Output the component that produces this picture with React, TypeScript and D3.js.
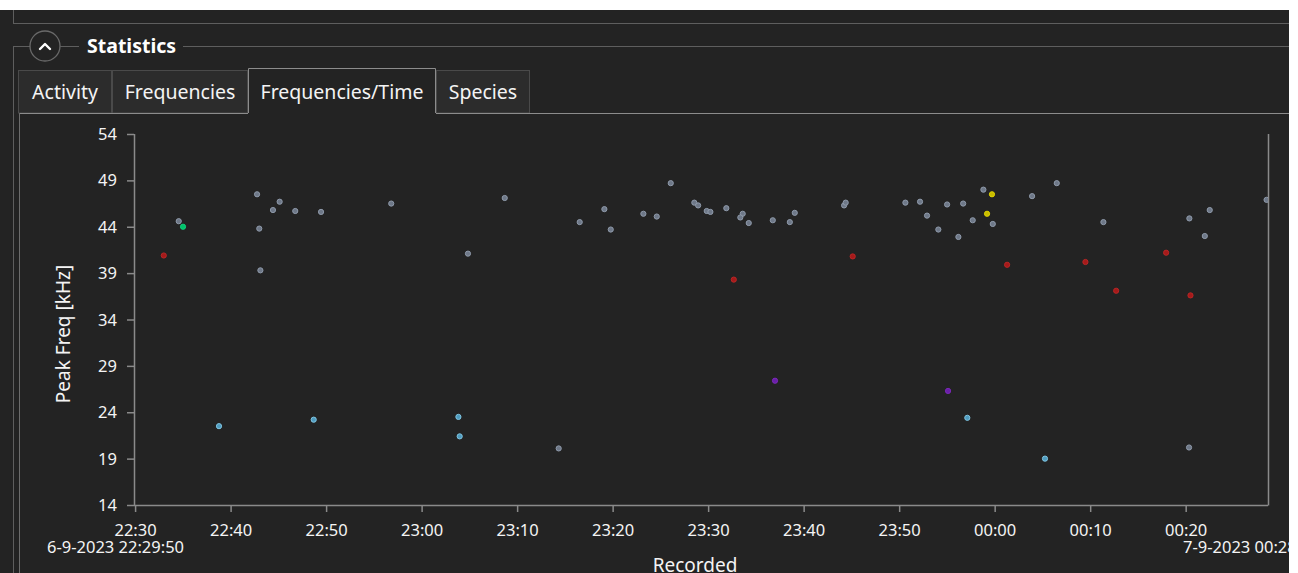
import React from "react";
import * as d3 from "d3";

// ---- data (time of recording, peak frequency kHz) ----
const grayTimes = ["22:34:31","22:42:43","22:42:57","22:43:04","22:44:23","22:45:05","22:46:43","22:49:25","22:56:46","23:04:48","23:08:39","23:14:18","23:16:30","23:19:05","23:19:45","23:23:10","23:24:34","23:26:02","23:28:30","23:28:54","23:29:48","23:30:11","23:31:51","23:33:34","23:33:19","23:34:12","23:36:43","23:38:30","23:39:01","23:44:11","23:44:21","23:50:36","23:52:08","23:52:52","23:54:03","23:54:58","23:56:09","23:56:39","23:57:39","23:58:46","23:59:45","00:03:52","00:06:27","00:11:20","00:20:18","00:20:20","00:21:57","00:22:28","00:28:25"];
const grayValues = [44.6,47.5,43.8,39.3,45.8,46.7,45.7,45.6,46.5,41.1,47.1,20.1,44.5,45.9,43.7,45.4,45.1,48.7,46.6,46.3,45.7,45.6,46.0,45.4,45.0,44.4,44.7,44.5,45.5,46.3,46.6,46.6,46.7,45.2,43.7,46.4,42.9,46.5,44.7,48.0,44.3,47.3,48.7,44.5,20.2,44.9,43.0,45.8,46.9];

const blueTimes = ["22:38:44","22:48:39","23:03:48","23:03:56","23:57:05","00:05:13"];
const blueValues = [22.5,23.2,23.5,21.4,23.4,19.0];

const redTimes = ["22:32:57","23:32:38","23:45:05","00:01:15","00:09:27","00:12:40","00:17:54","00:20:27"];
const redValues = [40.9,38.3,40.8,39.9,40.2,37.1,41.2,36.6];

const greenTimes = ["22:34:58"];
const greenValues = [44.0];

const yellowTimes = ["23:59:40","23:59:09"];
const yellowValues = [47.5,45.4];

const purpleTimes = ["23:36:57","23:55:04"];
const purpleValues = [27.4,26.3];

const yTickValues = [14, 19, 24, 29, 34, 39, 44, 49, 54];
const tabs = ["Activity", "Frequencies", "Frequencies/Time", "Species"];
const startLabel = "6-9-2023 22:29:50";
const endLabel = "7-9-2023 00:28:34";

function parseT(s: string): Date {
  const [h, m, sec] = s.split(":").map(Number);
  const day = h < 12 ? 7 : 6;
  return new Date(2023, 8, day, h, m, sec);
}

const series = [
  { times: grayTimes, values: grayValues, fill: "#6e7888", stroke: "#8f9aaa" },
  { times: blueTimes, values: blueValues, fill: "#4f9cc0", stroke: "#80c4e0" },
  { times: redTimes, values: redValues, fill: "#a51a1a", stroke: "#b82626" },
  { times: greenTimes, values: greenValues, fill: "#00c46c", stroke: "#10d07a" },
  { times: yellowTimes, values: yellowValues, fill: "#c9bc00", stroke: "#e0d400" },
  { times: purpleTimes, values: purpleValues, fill: "#6a1fa8", stroke: "#7a28b8" },
];

const FONT = "'Noto Sans', 'Open Sans', sans-serif";

export default function App() {
  const W = 1298, H = 573;
  const left = 134, right = 1268, top = 134, bottom = 505;
  const x = d3.scaleTime()
    .domain([parseT("22:29:50"), parseT("00:28:34")])
    .range([left, right]);
  const y = d3.scaleLinear().domain([14, 54]).range([bottom, top]);
  const xTicks = x.ticks(d3.timeMinute.every(10) as any);
  const fmt = d3.timeFormat("%H:%M");
  const axisCol = "#8a8a8a";
  const lineCol = "#5e5e5e";
  const textCol = "#f4f4f4";
  const tickFs = 16.5;

  // tab geometry
  const tabEdges = [18, 112, 248, 436, 530];
  const sel = 2;

  return (
    <div style={{ position: "fixed", left: 0, top: 0 }}>
      <svg width={W} height={H} style={{ display: "block" }} fontFamily={FONT}>
        <defs>
          <clipPath id="plotClip">
            <rect x={left} y={top - 5} width={right - left} height={bottom - top + 5} />
          </clipPath>
          <clipPath id="pageClip">
            <rect x={0} y={10} width={1289} height={H - 10} />
          </clipPath>
        </defs>
        <rect x={0} y={0} width={W} height={H} fill="#ffffff" />
        <rect x={0} y={10} width={1289} height={H - 10} fill="#232323" />

        <g clipPath="url(#pageClip)">
          {/* upper box */}
          <line x1={13.5} y1={10} x2={13.5} y2={23.5} stroke={lineCol} />
          <line x1={13} y1={23.5} x2={1289} y2={23.5} stroke={lineCol} />

          {/* group box */}
          <line x1={13} y1={46.5} x2={30} y2={46.5} stroke={lineCol} />
          <line x1={13.5} y1={46} x2={13.5} y2={H} stroke={lineCol} />
          <circle cx={45} cy={46} r={15} fill="#232323" stroke="#6a6a6a" strokeWidth={1.3} />
          <path d="M40,49 L45,44 L50,49" fill="none" stroke="#ffffff" strokeWidth={2.4} strokeLinecap="round" strokeLinejoin="round" />
          <line x1={60} y1={46.5} x2={79} y2={46.5} stroke={lineCol} />
          <text x={87} y={53} fill="#ffffff" fontSize={19.5} fontWeight={700}>Statistics</text>
          <line x1={183} y1={46.5} x2={1289} y2={46.5} stroke={lineCol} />

          {/* tabs */}
          {tabs.map((t, i) => {
            const x0 = tabEdges[i], x1 = tabEdges[i + 1];
            const isSel = i === sel;
            const ty = isSel ? 68.5 : 70.5;
            return (
              <g key={t}>
                {isSel ? (
                  <path d={`M${x0 + 0.5},113 L${x0 + 0.5},${ty} L${x1 - 0.5},${ty} L${x1 - 0.5},113`} fill="#232323" stroke="#8c8c8c" />
                ) : (
                  <rect x={x0 + 0.5} y={ty} width={x1 - x0 - 1} height={113 - ty} fill="#2c2c2c" stroke="#4a4a4a" />
                )}
                <text x={(x0 + x1) / 2} y={99} textAnchor="middle" fill={textCol} fontSize={19.5}>{t}</text>
              </g>
            );
          })}
          <line x1={19} y1={113.5} x2={248} y2={113.5} stroke="#8c8c8c" />
          <line x1={436} y1={113.5} x2={1289} y2={113.5} stroke="#8c8c8c" />
          <line x1={19.5} y1={113} x2={19.5} y2={H} stroke="#6c6c6c" />

          {/* axes */}
          <line x1={left + 0.5} y1={top} x2={left + 0.5} y2={bottom + 0.5} stroke={axisCol} strokeWidth={1.5} />
          <line x1={left} y1={bottom + 0.5} x2={right} y2={bottom + 0.5} stroke={axisCol} strokeWidth={1.5} />
          <line x1={right + 0.5} y1={top} x2={right + 0.5} y2={bottom + 0.5} stroke={axisCol} strokeWidth={1.5} />

          {yTickValues.map((v) => (
            <g key={v}>
              <line x1={left - 7} x2={left} y1={y(v) + 0.5} y2={y(v) + 0.5} stroke={axisCol} strokeWidth={1.5} />
              <text x={117} y={y(v) + 6} textAnchor="end" fill={textCol} fontSize={tickFs}>{v}</text>
            </g>
          ))}
          {xTicks.map((d) => (
            <g key={+d}>
              <line x1={x(d)} x2={x(d)} y1={bottom} y2={bottom + 7} stroke={axisCol} strokeWidth={1.5} />
              <text x={x(d)} y={536} textAnchor="middle" fill={textCol} fontSize={tickFs}>{fmt(d)}</text>
            </g>
          ))}
          <text x={47} y={553} fill={textCol} fontSize={tickFs}>{startLabel}</text>
          <text x={1183} y={553} fill={textCol} fontSize={tickFs}>{endLabel}</text>

          <text x={695} y={572} textAnchor="middle" fill={textCol} fontSize={19}>Recorded</text>
          <text transform={`translate(70,334) rotate(-90)`} textAnchor="middle" fill={textCol} fontSize={19}>Peak Freq [kHz]</text>

          {/* points */}
          <g clipPath="url(#plotClip)">
            {series.map((s, si) =>
              s.times.map((t, i) => (
                <circle key={`${si}-${i}`} cx={x(parseT(t))} cy={y(s.values[i])} r={2.6}
                  fill={s.fill} stroke={s.stroke} strokeWidth={1} />
              ))
            )}
          </g>
        </g>
      </svg>
    </div>
  );
}
